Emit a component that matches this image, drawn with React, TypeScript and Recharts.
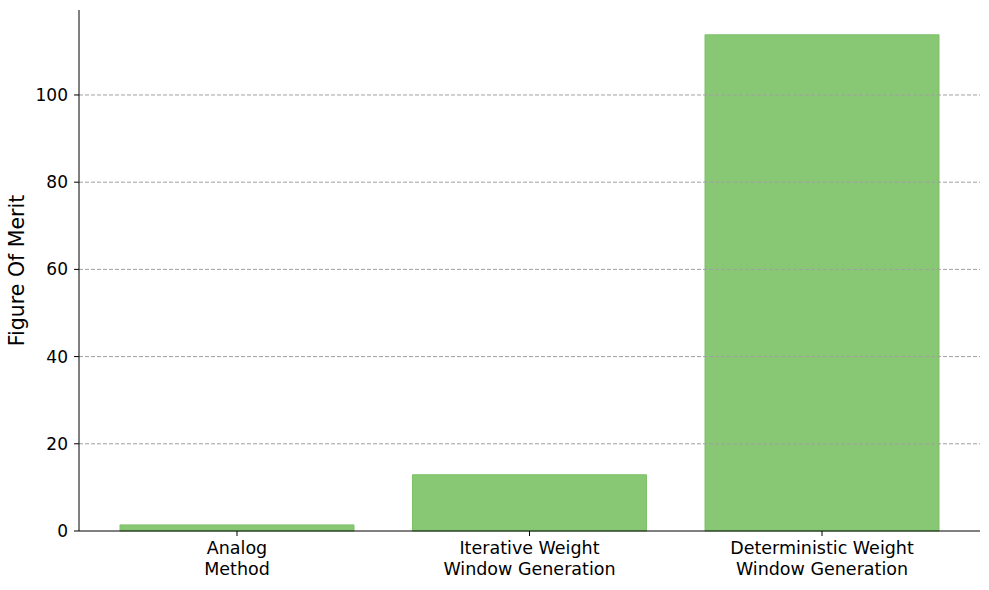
import React from 'react';
import { BarChart, Bar, XAxis, YAxis, ReferenceLine, Label } from 'recharts';

const categories = ['Analog\nMethod', 'Iterative Weight\nWindow Generation', 'Deterministic Weight\nWindow Generation'];
const figureOfMerit = [1.4, 12.9, 113.8];
const yTicks = [0, 20, 40, 60, 80, 100];
const gridValues = [20, 40, 60, 80, 100];

const data = categories.map((c, i) => ({ name: c, fom: figureOfMerit[i] }));

const FONT = 'DejaVu Sans, sans-serif';

const XTick = (props: any) => {
  const { x, y, payload } = props;
  const lines = String(payload.value).split('\n');
  return (
    <text x={x} y={y} textAnchor="middle" fontFamily={FONT} fontSize={17.5} fill="#000">
      {lines.map((l, i) => (
        <tspan key={i} x={x} dy={i === 0 ? 16 : 20.5}>{l}</tspan>
      ))}
    </text>
  );
};

const YTick = (props: any) => {
  const { x, y, payload } = props;
  return (
    <text x={x} y={y} dy={6} textAnchor="end" fontFamily={FONT} fontSize={17} fill="#000">
      {payload.value}
    </text>
  );
};

export default function App() {
  return (
    <div style={{ position: 'absolute', left: 0, top: 0, background: '#fff' }}>
      <BarChart
        width={989}
        height={590}
        data={data}
        margin={{ top: 10, right: 9, left: 0, bottom: 0 }}
        barCategoryGap="10%"
      >
        <XAxis
          dataKey="name"
          height={59}
          padding={{ left: 11.75, right: 11.75 }}
          tick={<XTick />}
          tickSize={5}
          axisLine={{ stroke: '#000', strokeWidth: 1 }}
          tickLine={{ stroke: '#000' }}
          interval={0}
        />
        <YAxis
          width={79}
          domain={[0, 119.49]}
          ticks={yTicks}
          tickSize={5}
          tickMargin={6}
          axisLine={{ stroke: '#000', strokeWidth: 1 }}
          tickLine={{ stroke: '#000' }}
          tick={<YTick />}
        >
          <Label
            value="Figure Of Merit"
            angle={-90}
            position="insideLeft"
            offset={0}
            style={{ fontSize: 20.5, fill: '#000', fontFamily: FONT, textAnchor: 'middle' }}
            dx={17}
          />
        </YAxis>
        <Bar dataKey="fom" fill="#88C774" stroke="#7DC168" strokeWidth={1} isAnimationActive={false} />
        {gridValues.map(v => (
          <ReferenceLine key={v} y={v} stroke="#a0a0a0" strokeDasharray="4 2" strokeWidth={1} />
        ))}
      </BarChart>
    </div>
  );
}
